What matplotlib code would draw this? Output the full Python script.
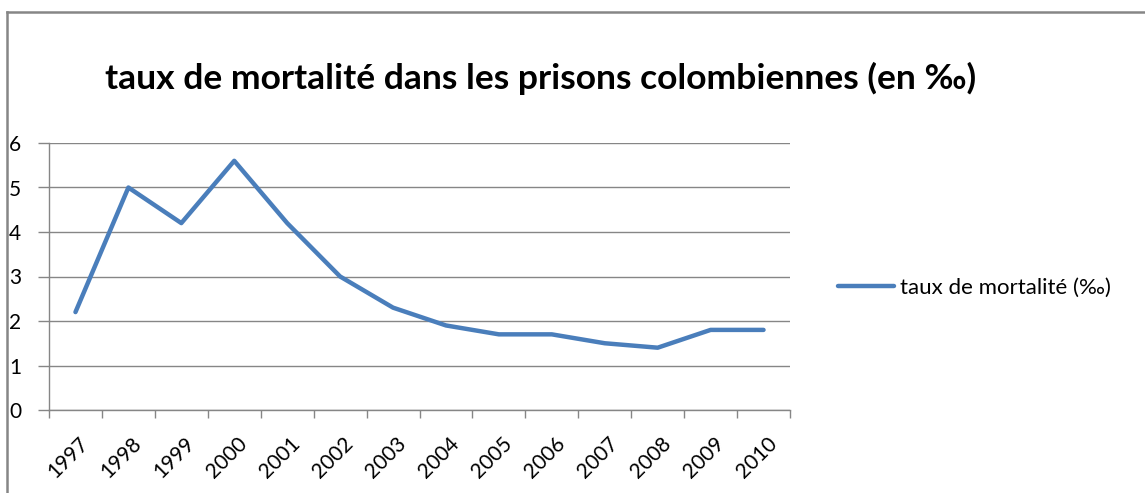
import matplotlib
matplotlib.use("Agg")
import matplotlib.pyplot as plt
from matplotlib.lines import Line2D
import matplotlib.transforms as mtransforms
import numpy as np

years = ["1997", "1998", "1999", "2000", "2001", "2002", "2003",
         "2004", "2005", "2006", "2007", "2008", "2009", "2010"]
rates = [2.2, 5.0, 4.2, 5.6, 4.2, 3.0, 2.3, 1.9, 1.7, 1.7, 1.5, 1.4, 1.8, 1.8]
series_label = "taux de mortalité (‰)"
title = "taux de mortalité dans les prisons colombiennes (en ‰)"

plt.rcParams['font.family'] = ['Lato', 'DejaVu Sans']

W, H = 1145, 493
fig = plt.figure(figsize=(W / 100, H / 100), dpi=100)

# outer frame (top and left edges visible)
grey = '#868686'
fig.add_artist(Line2D([7 / W, 7 / W], [0, 1 - 12 / H], transform=fig.transFigure, color=grey, lw=1.8))
fig.add_artist(Line2D([7 / W, 1], [1 - 12 / H, 1 - 12 / H], transform=fig.transFigure, color=grey, lw=1.8))

left, right, top, bottom = 49 / W, 790 / W, 1 - 143 / H, 1 - 410 / H
ax = fig.add_axes([left, bottom, right - left, top - bottom])

x = np.arange(len(years))
line, = ax.plot(x, rates, color='#4A7EBB', lw=3.2, solid_joinstyle='round', solid_capstyle='round',
                label=series_label, zorder=3)

ax.set_xlim(-0.5, len(years) - 0.5)
ax.set_ylim(0, 6)
ax.set_yticks(range(0, 7))
ax.yaxis.grid(True, color=grey, lw=1)
ax.set_axisbelow(True)

for s in ['top', 'right']:
    ax.spines[s].set_visible(False)
for s in ['left', 'bottom']:
    ax.spines[s].set_color(grey)
    ax.spines[s].set_linewidth(1)

ax.set_xticks(x)
ax.set_xticklabels(years, rotation=45, ha='right', rotation_mode='anchor', fontsize=15)
ax.tick_params(axis='x', which='major', length=0, pad=17)
offset = mtransforms.ScaledTranslation(3 / 100, 0, fig.dpi_scale_trans)
for lbl in ax.get_xticklabels():
    lbl.set_transform(lbl.get_transform() + offset)
ax.set_xticks(np.arange(-0.5, len(years), 1), minor=True)
ax.tick_params(axis='x', which='minor', length=6, color=grey, width=1)
ax.tick_params(axis='y', length=8, color=grey, width=1, labelsize=15, pad=12)

fig.text(541 / W, 1 - 78 / H, title, ha='center', va='center', fontsize=25.5, fontweight='bold')

fig.legend(handles=[line], labels=[series_label], loc='center left',
           bbox_to_anchor=(818 / W, 1 - 288 / H), frameon=False, fontsize=16,
           handlelength=2.5, handletextpad=0.3)

fig.savefig('out.png', dpi=100)
